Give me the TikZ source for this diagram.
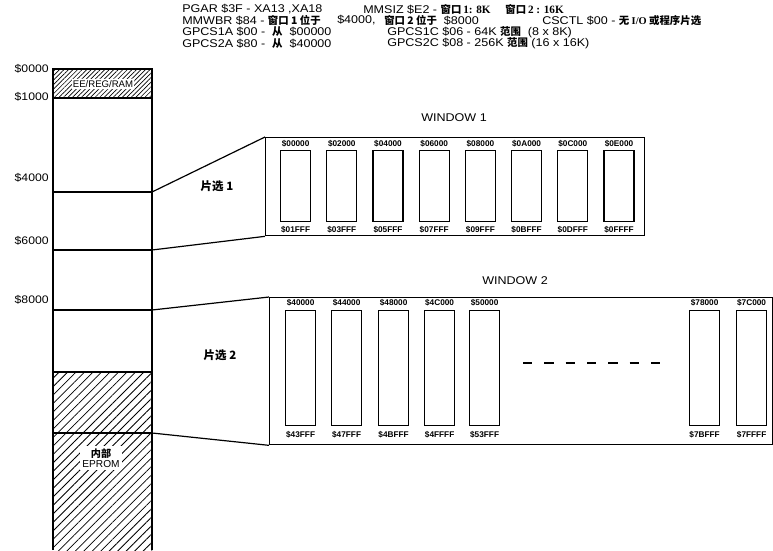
\documentclass[tikz,border=0pt]{standalone}
\usepackage{fontspec}
\setmainfont{Liberation Sans}
\newfontfamily\hdrfont[FakeStretch=1.12]{Liberation Sans}
\newfontfamily\cjk{Noto Sans CJK SC}
\newfontfamily\serifb{Liberation Serif}
\usetikzlibrary{patterns.meta}
\begin{document}
\begin{tikzpicture}[x=0.75pt,y=-0.75pt,
  hdr/.style={anchor=west,inner sep=0pt,font=\hdrfont\fontsize{8.4}{10}\selectfont},
  addr/.style={anchor=east,inner sep=0pt,font=\hdrfont\fontsize{8.2}{10}\selectfont},
  chip/.style={draw,line width=0.9pt,minimum width=22.5pt,inner sep=0pt,anchor=north west},
  clab/.style={inner sep=0pt,font=\fontsize{6.2}{7}\selectfont\bfseries},
  winbox/.style={draw,line width=1pt,anchor=north west,inner sep=0pt},
  wtitle/.style={inner sep=0pt,font=\hdrfont\fontsize{8.4}{10}\selectfont},
  csel/.style={inner sep=0pt,font=\cjk\bfseries\fontsize{8.6}{10}\selectfont},
  hatch/.style={pattern={Lines[angle=45,distance=4.5pt,line width=0.6pt]}},
  densehatch/.style={pattern={Lines[angle=45,distance=2.4pt,line width=0.5pt]}},
  conn/.style={line width=0.9pt}]
\useasboundingbox (0,0) rectangle (773,550);

% header
\node[hdr] (h1a) at (182,9) {PGAR \$3F - XA13 ,XA18};
\node[hdr] (h1b) at (363,9) {MMSIZ \$E2 - {\cjk\bfseries\fontsize{7.8}{9}\selectfont 窗口}\,{\serifb\bfseries 1: 8K}\quad\ {\cjk\bfseries\fontsize{7.8}{9}\selectfont 窗口}\,{\serifb\bfseries 2 : 16K}};
\node[hdr] (h2a) at (182,20.5) {MMWBR \$84 - {\cjk\bfseries\fontsize{7.8}{9}\selectfont 窗口 1 位于}};
\node[hdr] (h2c) at (337,20.5) {\$4000,};
\node[hdr] (h2d) at (384,20.5) {{\cjk\bfseries\fontsize{7.8}{9}\selectfont 窗口 2 位于}\ \ \$8000};
\node[hdr] (h2b) at (542,20.5) {CSCTL \$00 - {\cjk\bfseries\fontsize{7.8}{9}\selectfont 无 {\serifb I/O} 或程序片选}};
\node[hdr] (h3a) at (182,32) {GPCS1A \$00 - \ {\cjk\bfseries\fontsize{7.8}{9}\selectfont 从} \ \$00000};
\node[hdr] (h3b) at (387,32) {GPCS1C \$06 - 64K {\cjk\bfseries\fontsize{7.8}{9}\selectfont 范围} \ (8 x 8K)};
\node[hdr] (h4a) at (182,43.5) {GPCS2A \$80 - \ {\cjk\bfseries\fontsize{7.8}{9}\selectfont 从} \ \$40000};
\node[hdr] (h4b) at (387,43.5) {GPCS2C \$08 - 256K {\cjk\bfseries\fontsize{7.8}{9}\selectfont 范围} (16 x 16K)};

% memory column
\coordinate (ctl) at (53,69);
\coordinate (ctr) at (152,69);
\coordinate (c1l) at (53,98);
\coordinate (c1r) at (152,98);
\coordinate (c4l) at (53,192);
\coordinate (c4r) at (152,192);
\coordinate (c6l) at (53,250);
\coordinate (c6r) at (152,250);
\coordinate (c8l) at (53,310);
\coordinate (c8r) at (152,310);
\coordinate (chl) at (53,372);
\coordinate (chr) at (152,372);
\coordinate (cel) at (53,433);
\coordinate (cer) at (152,433);
\coordinate (cbl) at (53,550);
\coordinate (cbr) at (152,550);

\fill[densehatch] (ctl) rectangle (c1r);
\fill[hatch] (chl) rectangle (cbr);
\draw[line width=0.9pt] (cbl) -- (ctl) -- (ctr) -- (cbr);
\draw[line width=0.9pt] (c1l) -- (c1r);
\draw[line width=0.9pt] (c4l) -- (c4r);
\draw[line width=0.9pt] (c6l) -- (c6r);
\draw[line width=0.9pt] (c8l) -- (c8r);
\draw[line width=0.8pt] (chl) -- (chr);
\draw[line width=0.8pt] (cel) -- (cer);

\node[fill=white,inner sep=1pt,font=\fontsize{7.2}{8}\selectfont] (ee) at (103,84) {EE/REG/RAM};
\node[fill=white,inner sep=1.5pt,align=center,font=\fontsize{7.6}{9}\selectfont] (eprom) at (101,458)
  {{\cjk\bfseries 内部}\\[-1pt]EPROM};

\node[addr] (a0) at (49,69) {\$0000};
\node[addr] (a1) at (49,97) {\$1000};
\node[addr] (a4) at (49,178) {\$4000};
\node[addr] (a6) at (49,241) {\$6000};
\node[addr] (a8) at (49,300) {\$8000};

% window 1
\node[winbox,minimum width=284.25pt,minimum height=73.5pt] (w1) at (265,137) {};
\node[wtitle] (w1t) at (454,118) {WINDOW 1};
\draw[conn] (c4r) -- (w1.north west);
\draw[conn] (c6r) -- (w1.south west);
\node[csel] (cs1) at (217,186) {片选 1};
\foreach \i/\a/\b in {0/00000/01FFF,1/02000/03FFF,2/04000/05FFF,3/06000/07FFF,4/08000/09FFF,5/0A000/0BFFF,6/0C000/0DFFF,7/0E000/0FFFF}{
  \node[chip,minimum height=53.25pt] (k\i) at ({280+46.2*\i},150) {};
  \node[clab,above=2pt] (kt\i) at (k\i.north) {\$\a};
  \node[clab,below=3pt] (kb\i) at (k\i.south) {\$\b};
}

% window 2
\node[winbox,minimum width=377.25pt,minimum height=110.25pt] (w2) at (269,297) {};
\node[wtitle] (w2t) at (515,281) {WINDOW 2};
\draw[conn] (c8r) -- (w2.north west);
\draw[conn] (cer) -- (w2.south west);
\node[csel] (cs2) at (220,355) {片选 2};
\foreach \i/\x/\a/\b in {0/285/40000/43FFF,1/331/44000/47FFF,2/378/48000/4BFFF,3/424/4C000/4FFFF,4/469/50000/53FFF,5/689/78000/7BFFF,6/736/7C000/7FFFF}{
  \node[chip,minimum height=86.25pt] (m\i) at (\x,310) {};
  \node[clab,above=2.5pt] (mt\i) at (m\i.north) {\$\a};
  \node[clab,below=3.5pt] (mb\i) at (m\i.south) {\$\b};
}
\coordinate (d1) at (523,363);
\coordinate (d2) at (663,363);
\draw[line width=1pt,dash pattern=on 7pt off 9pt] (d1) -- (d2);
\end{tikzpicture}
\end{document}
